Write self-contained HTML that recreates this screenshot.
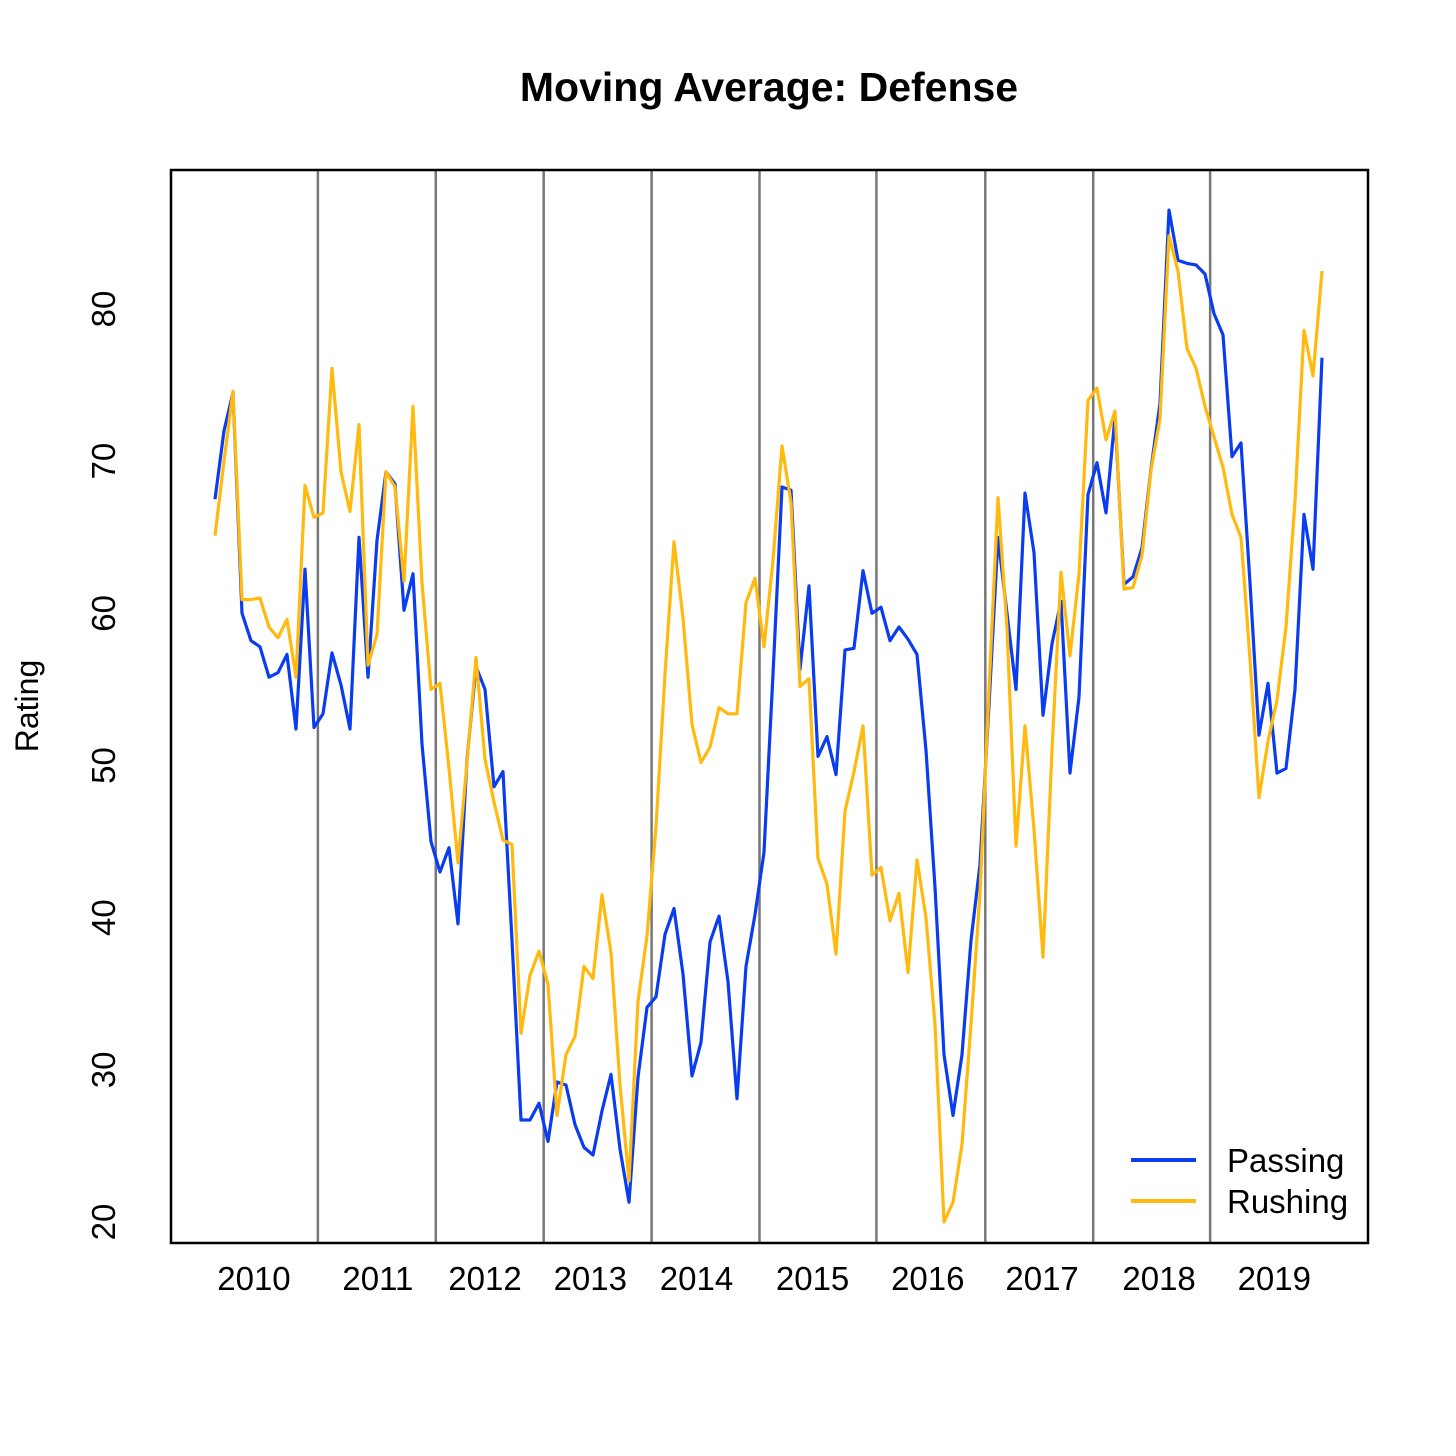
<!DOCTYPE html>
<html><head><meta charset="utf-8"><style>
html,body{margin:0;padding:0;background:#fff;}
svg{display:block;font-family:"Liberation Sans",Arial,sans-serif;}
</style></head><body>
<svg id="chart" width="1456" height="1456" viewBox="0 0 1456 1456">
<text x="769" y="101" text-anchor="middle" font-size="41" font-weight="bold">Moving Average: Defense</text>
<text transform="translate(38,706) rotate(-90)" text-anchor="middle" font-size="32">Rating</text>
<g id="grid"></g>
<g id="series"></g>
<rect x="171" y="170" width="1197" height="1073" fill="none" stroke="#000" stroke-width="2.5"/>
<g id="yaxis"></g>
<g id="xaxis"></g>
<g>
<g>
<line x1="1131" y1="1160" x2="1196" y2="1160" stroke="#0a3cf0" stroke-width="4"/>
<text x="1227" y="1172" font-size="33">Passing</text></g>
<g>
<line x1="1131" y1="1201" x2="1196" y2="1201" stroke="#ffb90f" stroke-width="4"/>
<text x="1227" y="1213" font-size="33">Rushing</text></g>
</g>
</svg>
<script>
const passing=[67.5,72,74.5,60,58.2,57.8,55.8,56.1,57.3,52.4,62.9,52.5,53.4,57.4,55.3,52.4,65,55.8,64.8,69.3,68.5,60.2,62.6,51.4,45,43,44.6,39.6,50.4,56.5,55,48.6,49.6,38.5,26.7,26.7,27.8,25.3,29.2,29,26.4,24.9,24.4,27.3,29.7,24.8,21.3,29.5,34.1,34.8,38.9,40.6,36.3,29.6,31.8,38.4,40.1,35.8,28.1,36.8,40.2,44.3,56,68.3,68.1,56.3,61.8,50.6,51.9,49.4,57.6,57.7,62.8,60,60.4,58.2,59.1,58.3,57.3,51,42,31,27,31,38.5,43.5,54,65,60,55,67.9,64,53.3,58,60.8,49.5,54.5,67.8,69.9,66.6,72.9,61.9,62.4,64.3,69.5,73.8,86.5,83.2,83,82.9,82.3,79.7,78.3,70.3,71.2,62,52,55.4,49.5,49.8,55,66.5,62.9,76.8];
const rushing=[65.1,70,74.6,60.9,60.9,61,59.1,58.4,59.6,55.8,68.4,66.3,66.6,76.1,69.3,66.7,72.4,56.6,58.6,69.3,68.3,62.1,73.6,62,55,55.4,49.8,43.6,50.2,57.1,50.4,47.6,45.1,44.8,32.4,36.2,37.8,35.6,27,31,32.2,36.8,36,41.5,37.7,29,22.7,34.5,38.8,46,56,64.7,59.7,52.7,50.2,51.2,53.8,53.4,53.4,60.7,62.3,57.8,63.5,71,67.3,55.2,55.7,43.9,42.2,37.6,47,49.6,52.6,42.8,43.3,39.8,41.6,36.4,43.8,40,33,20,21.3,25.1,33,41.6,55,67.6,59,44.7,52.6,45.8,37.4,51,62.7,57.2,62.6,74,74.8,71.4,73.3,61.6,61.7,63.8,69.4,72.8,84.8,82.5,77.4,76.1,73.6,71.6,69.6,66.5,65,57,47.9,51.6,54.3,59.1,67.4,78.6,75.6,82.5];
const yTicks=[20,30,40,50,60,70,80];
const yearLabels=["2010","2011","2012","2013","2014","2015","2016","2017","2018","2019"];
const yearCenters=[4.33,18.1,30,41.7,53.5,66.4,79.2,91.9,104.9,117.7];
const seasonBreaks=[11.43,24.53,36.52,48.51,60.5,73.49,85.59,97.58,110.57];

const NS="http://www.w3.org/2000/svg";
const step=(1322-215)/(passing.length-1);
function xs(i){return 215+i*step;}
function ys(v){return 1222-(v-20)*(1222-309)/60;}
function mk(tag,attrs,parent){const e=document.createElementNS(NS,tag);for(const k in attrs)e.setAttribute(k,attrs[k]);parent.appendChild(e);return e;}

const grid=document.getElementById('grid');
seasonBreaks.forEach(b=>{
  const l=mk('line',{x1:xs(b),x2:xs(b),y1:170,y2:1243,stroke:'#777',"stroke-width":2.5},grid);
  
  
});
const ser=document.getElementById('series');
[[passing,'#0a3cf0','passing-line'],[rushing,'#ffb90f','rushing-line']].forEach(([d,c,n])=>{
  const p=mk('polyline',{points:d.map((v,i)=>xs(i).toFixed(1)+','+ys(v).toFixed(1)).join(' '),fill:'none',stroke:c,"stroke-width":3.2,"stroke-linejoin":"round"},ser);
  
  
});
const ya=document.getElementById('yaxis');
yTicks.forEach(t=>{
  const y=ys(t);
  const tx=mk('text',{transform:`translate(115,${y}) rotate(-90)`,"text-anchor":"middle","font-size":33},ya);
  tx.textContent=t;
  
  
});
const xa=document.getElementById('xaxis');
yearLabels.forEach((lab,i)=>{
  const tx=mk('text',{x:xs(yearCenters[i]),y:1290,"text-anchor":"middle","font-size":33},xa);
  tx.textContent=lab;
  
  
});
</script>
</body></html>
